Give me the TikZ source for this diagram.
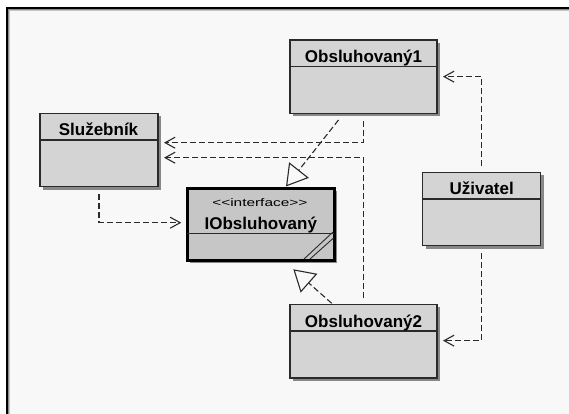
\documentclass[tikz,border=0pt]{standalone}
\usepackage{fontspec}
\setmainfont{Liberation Sans}
\newfontfamily\stereofont{Liberation Sans}[Ligatures=ResetAll]
\usetikzlibrary{arrows.meta,calc,shadows}
\definecolor{panel}{HTML}{F8F8F8}
\definecolor{boxfill}{HTML}{D4D4D4}
\definecolor{ifill}{HTML}{C6C6C6}
\definecolor{ink}{HTML}{2A2A2A}
\tikzset{
  classbox/.style={rectangle, inner sep=0pt, outer sep=0pt, draw=ink, line width=1.4pt,
    fill=boxfill, drop shadow={shadow xshift=3pt, shadow yshift=-3pt, opacity=0.45, fill=black}},
  ifacebox/.style={classbox, draw=black, line width=3pt, fill=ifill},
  divider/.style={draw=ink, line width=1.2pt},
  title/.style={font=\bfseries\fontsize{17}{20}\selectfont, anchor=base, inner sep=0pt},
  stereo/.style={font=\stereofont\fontsize{11}{13}\selectfont, anchor=base, inner sep=0pt},
  dep/.style={draw=ink, line width=1.1pt, dash pattern=on 6pt off 3pt,
    -{Straight Barb[length=10pt, width=11pt, line width=1.1pt]}},
  real/.style={draw=ink, line width=1.1pt, dash pattern=on 6pt off 3pt,
    -{Triangle[open, length=21pt, width=25pt, line width=1.1pt]}},
}
\begin{document}
\begin{tikzpicture}[x=1pt, y=-1pt]
  \useasboundingbox (0,0) rectangle (569,414);
  % window panel with sunken border
  \fill[white] (0,0) rectangle (569,414);
  \fill[panel] (6,7) rectangle (569,414);
  \draw[black, line width=2pt] (7,414) -- (7,7.7) -- (569,7.7);
  \draw[black!45, line width=1pt] (8.8,414) -- (8.8,9.2) -- (569,9.2);
  \draw[black!22, line width=1pt] (9.8,414) -- (9.8,10.2) -- (569,10.2);

  % classes
  \node[classbox, minimum width=147pt, minimum height=73.3pt] (o1) at (363.5,76.65) {};
  \node[classbox, minimum width=118pt, minimum height=73.4pt] (sl) at (99,150) {};
  \node[ifacebox, minimum width=146.7pt, minimum height=72pt] (io) at (260.65,224) {};
  \node[classbox, minimum width=118pt, minimum height=73.4pt] (uz) at (481.7,209) {};
  \node[classbox, minimum width=147pt, minimum height=73.7pt] (o2) at (363.5,341.15) {};

  % compartment dividers
  \draw[divider] ($(o1.north west)+(0,26.7)$) -- ($(o1.north east)+(0,26.7)$);
  \draw[divider] ($(sl.north west)+(0,26.7)$) -- ($(sl.north east)+(0,26.7)$);
  \draw[divider] ($(io.north west)+(0,45.5)$) -- ($(io.north east)+(0,45.5)$);
  \draw[divider] ($(uz.north west)+(0,26.7)$) -- ($(uz.north east)+(0,26.7)$);
  \draw[divider] ($(o2.north west)+(0,26.7)$) -- ($(o2.north east)+(0,26.7)$);

  % names
  \node[title] (o1t) at ($(o1.north west)+(73.5,23)$) {Obsluhovaný1};
  \node[title] (slt) at ($(sl.north west)+(58.5,22.5)$) {Služebník};
  \node[stereo] (ios) at ($(io.north west)+(72.5,18.5)$) {\scalebox{1.4}[1]{<\kern0pt<interface>\kern0pt>}};
  \node[title] (iot) at ($(io.north west)+(73.5,41.3)$) {IObsluhovaný};
  \node[title] (uzt) at ($(uz.north west)+(59,22.3)$) {Uživatel};
  \node[title] (o2t) at ($(o2.north west)+(73.5,23)$) {Obsluhovaný2};

  % interface corner marks
  \draw[ink, line width=0.9pt] ($(io.south east)+(-30,-1)$) -- ($(io.south east)+(-1,-28)$);
  \draw[ink, line width=0.9pt] ($(io.south east)+(-24,-1)$) -- ($(io.south east)+(-0.5,-22)$);

  % dependencies
  \draw[dep] ($(o1.south)+(0,8)$) |- ($(sl.north east)+(6,29.4)$);
  \draw[dep] ($(o2.north)+(0,-6)$) |- ($(sl.north east)+(6,44.4)$);
  \draw[dep] ($(sl.south west)+(59,7.6)$) |- ($(io.west)+(-6,-1.3)$);
  \draw[dep] ($(uz.north)+(0,-6.6)$) |- ($(o1.east)+(6,0)$);
  \draw[dep] ($(uz.south)+(0,7.6)$) |- ($(o2.east)+(6,-0.5)$);

  % realizations
  \draw[real] ($(o1.south west)+(48.5,6.7)$) -- ($(io.north west)+(98.7,-1.5)$);
  \draw[real] ($(o2.north west)+(41.7,-1)$) -- ($(io.south west)+(106,9.3)$);
\end{tikzpicture}
\end{document}
